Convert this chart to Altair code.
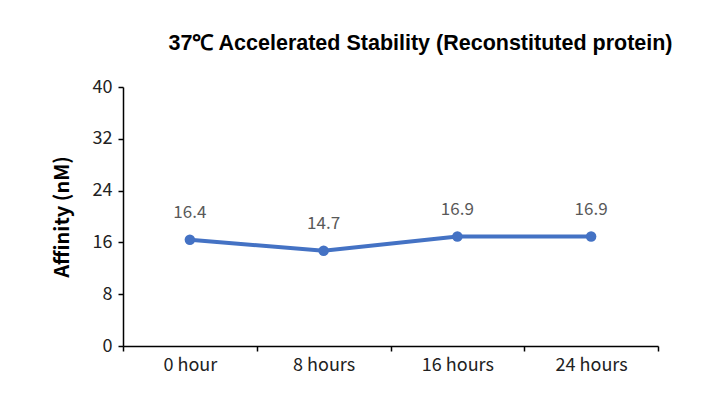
import altair as alt
import pandas as pd

times = ["0 hour", "8 hours", "16 hours", "24 hours"]
affinity = [16.4, 14.7, 16.9, 16.9]
y_ticks = [0, 8, 16, 24, 32, 40]

df = pd.DataFrame({"time": times, "affinity": affinity})
df["label"] = df["affinity"].map(lambda v: f"{v:.1f}")

FONT = "Noto Sans CJK SC"

x = alt.X(
    "time:N",
    sort=times,
    bandPosition=0.5,
    scale=alt.Scale(type="band", paddingInner=0, paddingOuter=0),
    axis=alt.Axis(
        title=None, labelAngle=0, labelFontSize=18, labelColor="#222222",
        labelFont=FONT, labelPadding=5, tickBand="extent", tickSize=5,
        tickColor="black", domainColor="black", domainWidth=1.5, tickWidth=1.5,
        grid=False,
    ),
)
y = alt.Y(
    "affinity:Q",
    scale=alt.Scale(domain=[0, 40], nice=False),
    axis=alt.Axis(
        title="Affinity (nM)", titleFontSize=20, titleFont=FONT, titleFontWeight="bold",
        titleColor="black", titlePadding=20, values=y_ticks, labelFontSize=18,
        labelColor="#222222", labelFont=FONT, labelPadding=6, tickSize=5,
        tickColor="black", domainColor="black", domainWidth=1.5, tickWidth=1.5,
        grid=False,
    ),
)

base = alt.Chart(df).encode(x=x, y=y)
line = base.mark_line(color="#4472C4", strokeWidth=4)
pts = base.mark_point(filled=True, color="#4472C4", size=110, opacity=1)
txt = base.mark_text(dy=-27, fontSize=17, color="#595959", font=FONT).encode(text="label:N")

chart = (
    alt.layer(line, pts, txt)
    .properties(
        width=535,
        height=259,
        background="white",
        title=alt.TitleParams(
            "37℃ Accelerated Stability (Reconstituted protein)",
            fontSize=21.5, font="Liberation Sans", fontWeight="bold", color="black",
            anchor="middle", dx=30, offset=24,
        ),
        autosize=alt.AutoSizeParams(type="none"),
        padding={"left": 123, "top": 87, "right": 68, "bottom": 59},
    )
    .configure_view(stroke="transparent", strokeWidth=0)
)

chart.save("out.html", embed_options={"renderer": "svg", "actions": False})
